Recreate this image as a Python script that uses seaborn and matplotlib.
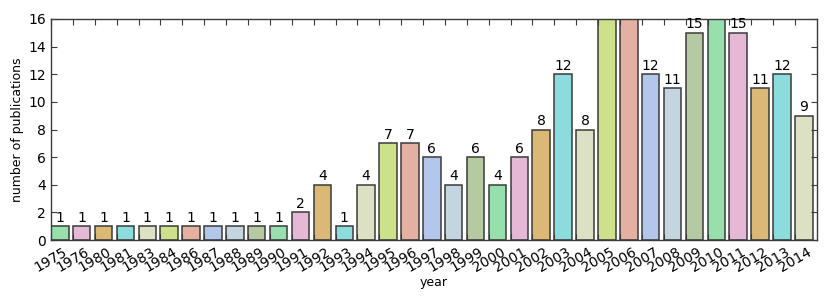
import matplotlib
matplotlib.use("Agg")
import matplotlib.pyplot as plt
import pandas as pd
import seaborn as sns

# Data (bars for 2005, 2006, 2010 run past the top)
years = ["1975", "1976", "1980", "1981", "1983", "1984", "1986", "1987",
         "1988", "1989", "1990", "1991", "1992", "1993", "1994", "1995",
         "1996", "1997", "1998", "1999", "2000", "2001", "2002", "2003",
         "2004", "2005", "2006", "2007", "2008", "2009", "2010", "2011",
         "2012", "2013", "2014"]
counts = [1, 1, 1, 1, 1, 1, 1, 1, 1, 1, 1, 2, 4, 1, 4, 7, 7, 6, 4, 6, 4, 6,
          8, 12, 8, 19, 18, 12, 11, 15, 17, 15, 11, 12, 9]
cycle = ["#97e0ad", "#e5b8d6", "#dcb876", "#8cdcdd", "#dde1c3",
         "#cde18a", "#e3b0a2", "#b3c6eb", "#c3d5de", "#b5c9a3"]

plt.rcParams.update({
    "font.family": "DejaVu Sans",
    "xtick.direction": "in", "ytick.direction": "in",
    "xtick.top": True, "ytick.right": True,
    "xtick.major.size": 4, "ytick.major.size": 4,
    "axes.edgecolor": "#3a3a3a", "axes.linewidth": 1.0,
})

df = pd.DataFrame({"year": years, "count": counts})
palette = {y: cycle[i % len(cycle)] for i, y in enumerate(years)}

fig, ax = plt.subplots(figsize=(8.3, 3.02), dpi=100)
sns.barplot(data=df, x="year", y="count", hue="year", palette=palette,
            legend=False, saturation=1, edgecolor="#3a3a3a", linewidth=1.1,
            ax=ax)

# Value labels (clipped to the axes like the original)
for cont in ax.containers:
    texts = ax.bar_label(cont, fontsize=10, padding=1)
    for t in texts:
        t.set_clip_on(True)

# Old-style layout: ticks sit at the left edge of each bar
n = len(years)
ax.set_xticks([i - 0.4 for i in range(n)])
ax.set_xticklabels(years)
ax.set_xlim(-0.4, n - 0.4)
ax.set_ylim(0, 16)
ax.set_yticks(range(0, 17, 2))
ax.set_xlabel("year", fontsize=9, labelpad=1)
ax.set_ylabel("number of publications", fontsize=9, labelpad=3)
ax.tick_params(axis="both", labelsize=10, colors="#3a3a3a",
               labelcolor="black")
plt.setp(ax.get_xticklabels(), rotation=30, ha="center")
fig.subplots_adjust(left=51/830, right=817/830, top=1 - 19/302,
                    bottom=1 - 240/302)
fig.savefig("out.png", dpi=100)
